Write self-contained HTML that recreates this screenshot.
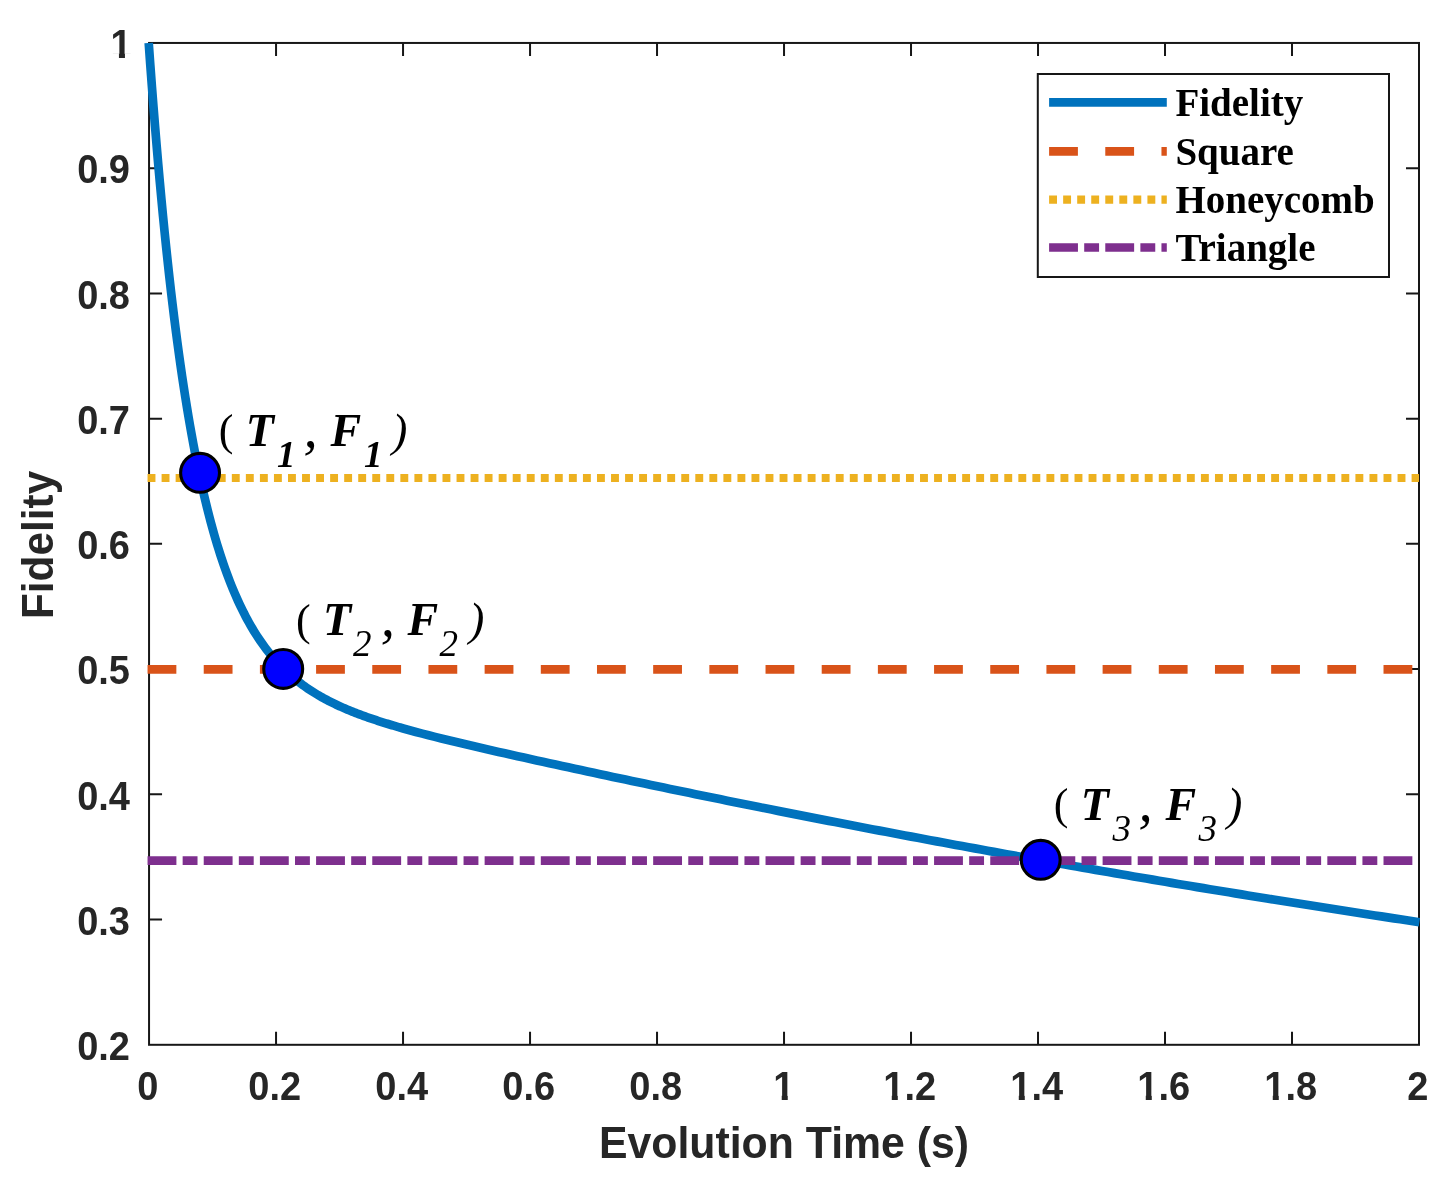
<!DOCTYPE html>
<html><head><meta charset="utf-8"><title>Fidelity</title>
<style>
html,body{margin:0;padding:0;background:#fff;}
svg{display:block;}
.tk{font-family:"Liberation Sans",sans-serif;font-weight:bold;font-size:38px;fill:#262626;}
.lb{font-family:"Liberation Sans",sans-serif;font-weight:bold;font-size:42.8px;fill:#262626;}
.lg{font-family:"Liberation Serif",serif;font-weight:bold;font-size:39px;fill:#000;}
.bi{font-family:"Liberation Serif",serif;font-weight:bold;font-style:italic;font-size:46px;fill:#000;}
.it{font-family:"Liberation Serif",serif;font-weight:normal;font-style:italic;font-size:46px;fill:#000;}
.sb{font-family:"Liberation Serif",serif;font-weight:normal;font-style:italic;font-size:37px;fill:#000;}
.sbb{font-family:"Liberation Serif",serif;font-weight:bold;font-style:italic;font-size:37px;fill:#000;}
.rg{font-family:"Liberation Serif",serif;font-weight:normal;font-style:normal;font-size:44px;fill:#000;}
.cm{font-family:"Liberation Serif",serif;font-weight:normal;font-style:italic;font-size:57px;fill:#000;}
</style></head><body>
<svg width="1448" height="1179" viewBox="0 0 1448 1179">
<rect x="0" y="0" width="1448" height="1179" fill="#ffffff"/>

<defs><clipPath id="c1e"><path d="M-80,-60 H80 V-4.63 H-80 Z M-12.66,-5.63 H-6.65 V8 H-12.66 Z"/></clipPath><clipPath id="c1m"><path d="M-80,-60 H80 V-4.63 H-80 Z M-2.10,-5.63 H3.92 V8 H-2.10 Z"/></clipPath><clipPath id="c1x"><path d="M-80,-60 H80 V-4.63 H-80 Z M-17.94,-5.63 H-11.93 V8 H-17.94 Z M-5.28,-60 H80 V12 H-5.28 Z"/></clipPath></defs>
<rect x="149.05" y="42.95" width="1269.95" height="1001.85" fill="none" stroke="#171717" stroke-width="2"/>
<path d="M276.05,1044.8 v-13.0 M276.05,42.95 v13.0 M403.04,1044.8 v-13.0 M403.04,42.95 v13.0 M530.04,1044.8 v-13.0 M530.04,42.95 v13.0 M657.03,1044.8 v-13.0 M657.03,42.95 v13.0 M784.03,1044.8 v-13.0 M784.03,42.95 v13.0 M911.02,1044.8 v-13.0 M911.02,42.95 v13.0 M1038.02,1044.8 v-13.0 M1038.02,42.95 v13.0 M1165.01,1044.8 v-13.0 M1165.01,42.95 v13.0 M1292.01,1044.8 v-13.0 M1292.01,42.95 v13.0 M149.05,919.57 h13.0 M1419.0,919.57 h-13.0 M149.05,794.34 h13.0 M1419.0,794.34 h-13.0 M149.05,669.11 h13.0 M1419.0,669.11 h-13.0 M149.05,543.87 h13.0 M1419.0,543.87 h-13.0 M149.05,418.64 h13.0 M1419.0,418.64 h-13.0 M149.05,293.41 h13.0 M1419.0,293.41 h-13.0 M149.05,168.18 h13.0 M1419.0,168.18 h-13.0" stroke="#171717" stroke-width="2" fill="none"/>
<path d="M148.72,42.95 L150.31,65.11 L151.91,86.47 L153.50,107.08 L155.09,126.95 L156.68,146.12 L158.27,164.61 L159.86,182.45 L161.45,199.67 L163.04,216.29 L164.63,232.33 L166.22,247.81 L167.81,262.76 L169.40,277.20 L170.99,291.14 L172.58,304.60 L174.18,317.61 L175.77,330.17 L177.36,342.31 L178.95,354.04 L180.54,365.37 L182.13,376.33 L183.72,386.92 L185.31,397.16 L186.90,407.05 L188.49,416.62 L190.08,425.88 L191.67,434.83 L193.26,443.48 L194.85,451.86 L196.45,459.96 L198.04,467.80 L199.63,475.38 L201.22,482.72 L202.81,489.83 L204.40,496.70 L205.99,503.36 L207.58,509.81 L209.17,516.05 L210.76,522.09 L212.35,527.94 L213.94,533.61 L215.53,539.10 L217.13,544.42 L218.72,549.57 L220.31,554.57 L221.90,559.41 L223.49,564.10 L225.08,568.64 L226.67,573.05 L228.26,577.32 L229.85,581.46 L231.44,585.48 L233.03,589.38 L234.62,593.16 L236.21,596.82 L237.80,600.38 L239.40,603.83 L240.99,607.18 L242.58,610.43 L244.17,613.58 L245.76,616.64 L247.35,619.62 L248.94,622.50 L250.53,625.31 L252.12,628.03 L253.71,630.68 L255.30,633.25 L256.89,635.74 L258.48,638.17 L260.07,640.53 L261.67,642.82 L263.26,645.05 L264.85,647.22 L266.44,649.33 L268.03,651.38 L269.62,653.38 L271.21,655.32 L272.80,657.21 L274.39,659.05 L275.98,660.84 L277.57,662.58 L279.16,664.28 L280.75,665.93 L282.34,667.54 L283.94,669.11 L285.53,670.64 L287.12,672.14 L288.71,673.59 L290.30,675.01 L291.89,676.39 L293.48,677.74 L295.07,679.06 L296.66,680.34 L298.25,681.60 L299.84,682.82 L301.43,684.02 L303.02,685.19 L304.61,686.33 L306.21,687.45 L307.80,688.54 L309.39,689.60 L310.98,690.65 L312.57,691.67 L314.16,692.67 L315.75,693.64 L317.34,694.60 L318.93,695.54 L320.52,696.46 L322.11,697.36 L323.70,698.24 L325.29,699.10 L326.89,699.95 L328.48,700.78 L330.07,701.59 L331.66,702.39 L333.25,703.18 L334.84,703.95 L336.43,704.71 L338.02,705.45 L339.61,706.18 L341.20,706.90 L342.79,707.61 L344.38,708.30 L345.97,708.98 L347.56,709.66 L349.16,710.32 L350.75,710.97 L352.34,711.61 L353.93,712.24 L355.52,712.87 L357.11,713.48 L358.70,714.09 L360.29,714.68 L361.88,715.27 L363.47,715.85 L365.06,716.43 L366.65,716.99 L368.24,717.55 L369.83,718.10 L371.43,718.65 L373.02,719.19 L374.61,719.72 L376.20,720.24 L377.79,720.77 L379.38,721.28 L380.97,721.79 L382.56,722.30 L384.15,722.79 L385.74,723.29 L387.33,723.78 L388.92,724.26 L390.51,724.74 L392.10,725.22 L393.70,725.69 L395.29,726.16 L396.88,726.63 L398.47,727.09 L400.06,727.54 L401.65,728.00 L403.24,728.45 L409.59,730.21 L415.94,731.93 L422.29,733.61 L428.64,735.25 L434.99,736.86 L441.35,738.44 L447.70,740.00 L454.05,741.54 L460.40,743.06 L466.75,744.56 L473.10,746.05 L479.45,747.52 L485.80,748.99 L492.15,750.44 L498.51,751.89 L504.86,753.32 L511.21,754.75 L517.56,756.17 L523.91,757.58 L530.26,758.99 L536.61,760.39 L542.96,761.79 L549.31,763.18 L555.66,764.57 L562.01,765.96 L568.37,767.33 L574.72,768.71 L581.07,770.08 L587.42,771.45 L593.77,772.81 L600.12,774.17 L606.47,775.53 L612.82,776.88 L619.17,778.23 L625.53,779.58 L631.88,780.92 L638.23,782.26 L644.58,783.60 L650.93,784.93 L657.28,786.26 L663.63,787.59 L669.98,788.91 L676.33,790.23 L682.68,791.54 L689.04,792.85 L695.39,794.16 L701.74,795.47 L708.09,796.77 L714.44,798.07 L720.79,799.36 L727.14,800.66 L733.49,801.94 L739.84,803.23 L746.19,804.51 L752.55,805.79 L758.90,807.06 L765.25,808.34 L771.60,809.60 L777.95,810.87 L784.30,812.13 L790.65,813.39 L797.00,814.64 L803.35,815.89 L809.70,817.14 L816.06,818.38 L822.41,819.62 L828.76,820.86 L835.11,822.09 L841.46,823.33 L847.81,824.55 L854.16,825.78 L860.51,827.00 L866.86,828.21 L873.21,829.43 L879.57,830.64 L885.92,831.85 L892.27,833.05 L898.62,834.25 L904.97,835.45 L911.32,836.64 L917.67,837.83 L924.02,839.02 L930.37,840.20 L936.72,841.38 L943.08,842.56 L949.43,843.74 L955.78,844.91 L962.13,846.07 L968.48,847.24 L974.83,848.40 L981.18,849.56 L987.53,850.71 L993.88,851.87 L1000.23,853.01 L1006.59,854.16 L1012.94,855.30 L1019.29,856.44 L1025.64,857.58 L1031.99,858.71 L1038.34,859.84 L1044.69,860.97 L1051.04,862.09 L1057.39,863.21 L1063.74,864.33 L1070.10,865.44 L1076.45,866.55 L1082.80,867.66 L1089.15,868.77 L1095.50,869.87 L1101.85,870.97 L1108.20,872.06 L1114.55,873.16 L1120.90,874.24 L1127.25,875.33 L1133.61,876.42 L1139.96,877.50 L1146.31,878.57 L1152.66,879.65 L1159.01,880.72 L1165.36,881.79 L1171.71,882.86 L1178.06,883.92 L1184.41,884.98 L1190.76,886.03 L1197.12,887.09 L1203.47,888.14 L1209.82,889.19 L1216.17,890.23 L1222.52,891.28 L1228.87,892.32 L1235.22,893.35 L1241.57,894.39 L1247.92,895.42 L1254.27,896.45 L1260.62,897.47 L1266.98,898.49 L1273.33,899.51 L1279.68,900.53 L1286.03,901.54 L1292.38,902.55 L1298.73,903.56 L1305.08,904.57 L1311.43,905.57 L1317.78,906.57 L1324.13,907.57 L1330.49,908.56 L1336.84,909.55 L1343.19,910.54 L1349.54,911.53 L1355.89,912.51 L1362.24,913.49 L1368.59,914.47 L1374.94,915.45 L1381.29,916.42 L1387.64,917.39 L1394.00,918.36 L1400.35,919.32 L1406.70,920.28 L1413.05,921.24 L1419.40,922.20" fill="none" stroke="#0072BD" stroke-width="8.7" stroke-linejoin="round"/>
<path d="M147.55,669.40 H1419.0" stroke="#D95319" stroke-width="8.8" stroke-dasharray="28.8 27.38" fill="none"/>
<path d="M147.55,478.00 H1419.0" stroke="#EDB120" stroke-width="8.1" stroke-dasharray="7.9 6.145" fill="none"/>
<path d="M147.55,860.60 H1415" stroke="#7E2F8E" stroke-width="8.6" stroke-dasharray="28.85 6.25 14.87 6.21" fill="none"/>
<circle cx="200.05" cy="472.8" r="19.45" fill="#0000FF" stroke="#000" stroke-width="3.1"/>
<circle cx="283.2" cy="668.9" r="19.45" fill="#0000FF" stroke="#000" stroke-width="3.1"/>
<circle cx="1040.7" cy="859.8" r="19.45" fill="#0000FF" stroke="#000" stroke-width="3.1"/>
<text class="tk" transform="translate(147.75,1100) scale(1,1.053)" text-anchor="middle">0</text>
<text class="tk" transform="translate(274.75,1100) scale(1,1.053)" text-anchor="middle">0.2</text>
<text class="tk" transform="translate(401.74,1100) scale(1,1.053)" text-anchor="middle">0.4</text>
<text class="tk" transform="translate(528.74,1100) scale(1,1.053)" text-anchor="middle">0.6</text>
<text class="tk" transform="translate(655.73,1100) scale(1,1.053)" text-anchor="middle">0.8</text>
<text class="tk" clip-path="url(#c1m)" transform="translate(783.83,1100) scale(1,1.053)" text-anchor="middle">1</text>
<text class="tk" clip-path="url(#c1x)" transform="translate(909.72,1100) scale(1,1.053)" text-anchor="middle">1.2</text>
<text class="tk" clip-path="url(#c1x)" transform="translate(1036.72,1100) scale(1,1.053)" text-anchor="middle">1.4</text>
<text class="tk" clip-path="url(#c1x)" transform="translate(1163.71,1100) scale(1,1.053)" text-anchor="middle">1.6</text>
<text class="tk" clip-path="url(#c1x)" transform="translate(1290.71,1100) scale(1,1.053)" text-anchor="middle">1.8</text>
<text class="tk" transform="translate(1417.70,1100) scale(1,1.053)" text-anchor="middle">2</text>
<text class="tk" transform="translate(130.0,1060.00) scale(1,1.053)" text-anchor="end">0.2</text>
<text class="tk" transform="translate(130.0,934.77) scale(1,1.053)" text-anchor="end">0.3</text>
<text class="tk" transform="translate(130.0,809.54) scale(1,1.053)" text-anchor="end">0.4</text>
<text class="tk" transform="translate(130.0,684.31) scale(1,1.053)" text-anchor="end">0.5</text>
<text class="tk" transform="translate(130.0,559.07) scale(1,1.053)" text-anchor="end">0.6</text>
<text class="tk" transform="translate(130.0,433.84) scale(1,1.053)" text-anchor="end">0.7</text>
<text class="tk" transform="translate(130.0,308.61) scale(1,1.053)" text-anchor="end">0.8</text>
<text class="tk" transform="translate(130.0,183.38) scale(1,1.053)" text-anchor="end">0.9</text>
<text class="tk" clip-path="url(#c1e)" transform="translate(131.6,58.15) scale(1,1.053)" text-anchor="end">1</text>
<text class="lb" transform="translate(784.02,1157.6) scale(1,1.053)" text-anchor="middle">Evolution Time (s)</text>
<text class="lb" style="font-size:42.4px" transform="translate(53.4,544.88) rotate(-90) scale(1,1.053)" text-anchor="middle">Fidelity</text>
<rect x="1037.8" y="74.0" width="351.2" height="203.0" fill="#fff" stroke="#171717" stroke-width="2"/>
<path d="M1049.1,102.4 H1166.8" stroke="#0072BD" stroke-width="8.7"/>
<path d="M1049.1,151.4 H1166.8" stroke="#D95319" stroke-width="8.8" stroke-dasharray="28.8 27.38"/>
<path d="M1049.1,199.6 H1166.8" stroke="#EDB120" stroke-width="8.1" stroke-dasharray="7.9 6.145"/>
<path d="M1049.1,247.5 H1166.8" stroke="#7E2F8E" stroke-width="8.6" stroke-dasharray="28.85 6.25 14.87 6.21"/>
<text class="lg" x="1175.4" y="116.0">Fidelity</text>
<text class="lg" x="1175.4" y="165.0">Square</text>
<text class="lg" x="1175.4" y="213.2">Honeycomb</text>
<text class="lg" x="1175.4" y="261.1">Triangle</text>
<text class="rg" x="218.8" y="445.2">(</text>
<text class="bi" x="245.8" y="446.0">T</text>
<text class="sbb" x="277.1" y="467.0">1</text>
<text class="cm" x="303.6" y="447.0">,</text>
<text class="bi" x="330.4" y="446.0">F</text>
<text class="sbb" x="364.1" y="467.0">1</text>
<text class="it" x="392.0" y="446.0">)</text>
<text class="rg" x="295.9" y="634.5">(</text>
<text class="bi" x="322.9" y="635.3">T</text>
<text class="sb" x="352.9" y="656.3">2</text>
<text class="cm" x="380.7" y="636.3">,</text>
<text class="bi" x="407.5" y="635.3">F</text>
<text class="sb" x="439.4" y="656.3">2</text>
<text class="it" x="469.1" y="635.3">)</text>
<text class="rg" x="1053.8" y="818.7">(</text>
<text class="bi" x="1080.8" y="819.5">T</text>
<text class="sb" x="1112.4" y="840.5">3</text>
<text class="cm" x="1138.6" y="820.5">,</text>
<text class="bi" x="1165.4" y="819.5">F</text>
<text class="sb" x="1198.6" y="840.5">3</text>
<text class="it" x="1227.0" y="819.5">)</text>
</svg></body></html>
